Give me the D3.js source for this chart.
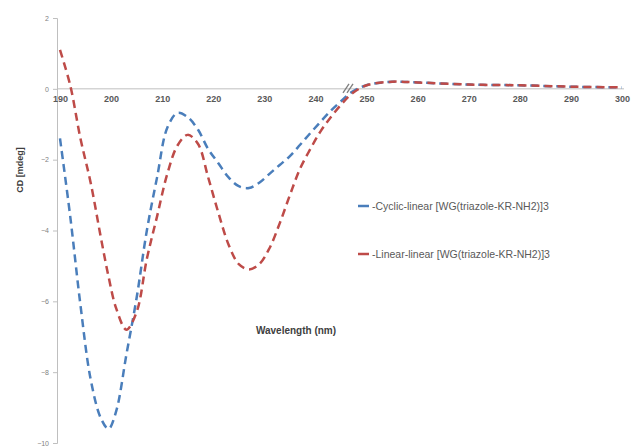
<!DOCTYPE html>
<html>
<head>
  <meta charset="utf-8" />
  <title>CD spectra</title>
  <script src="https://d3js.org/d3.v7.min.js"></script>
  <style>
    body { margin: 0; background: #fff; }
    text { font-family: "Liberation Sans", Arial, sans-serif; }
  </style>
</head>
<body>
<script>
  // data
  const wavelength = [190, 192, 194, 196, 198, 199.5, 201, 203, 205, 207, 209, 211, 213, 215, 217, 219,
    221, 223, 225, 227, 229, 231, 233, 235, 237, 239, 241, 243, 245, 247, 250, 255, 260, 270, 280, 290, 300];
  const cyclicCD = [-1.4, -3.6, -6.1, -8.2, -9.3, -9.6, -9.1, -7.5, -5.9, -4.0, -2.5, -1.1, -0.68, -0.8, -1.15, -1.7,
    -2.1, -2.5, -2.75, -2.8, -2.65, -2.4, -2.15, -1.9, -1.58, -1.25, -0.93, -0.62, -0.35, -0.1, 0.1, 0.2, 0.18, 0.12, 0.1, 0.06, 0.04];
  const linearCD = [1.1, 0.1, -1.4, -2.65, -4.2, -5.3, -6.2, -6.8, -6.3, -4.8, -3.6, -2.4, -1.6, -1.3, -1.55, -2.5,
    -3.5, -4.4, -4.95, -5.1, -4.95, -4.5, -3.8, -3.0, -2.25, -1.7, -1.2, -0.8, -0.45, -0.15, 0.1, 0.2, 0.18, 0.12, 0.1, 0.06, 0.04];
  const seriesNames = ["-Cyclic-linear [WG(triazole-KR-NH2)]3", "-Linear-linear [WG(triazole-KR-NH2)]3"];
  const seriesColors = ["#4a7ebb", "#be4b48"];
  const xTicks = [190, 200, 210, 220, 230, 240, 250, 260, 270, 280, 290, 300];
  const yTicks = [-10, -8, -6, -4, -2, 0, 2];

  const width = 639, height = 448;
  const svg = d3.select("body").append("svg")
    .attr("width", width)
    .attr("height", height);

  const x = d3.scaleLinear().domain([190, 300]).range([60, 622]);
  const y = d3.scaleLinear().domain([-10, 2]).range([443, 18]);

  // y axis
  const yAxis = svg.append("g")
    .attr("transform", "translate(57,0)")
    .call(d3.axisLeft(y).tickValues(yTicks).tickSize(4).tickPadding(4));
  yAxis.select(".domain").attr("stroke", "#bfbfbf");
  yAxis.selectAll(".tick line").attr("stroke", "#bfbfbf");
  yAxis.selectAll("text").attr("fill", "#7f7f7f").style("font-size", "7px");

  // x axis along zero
  const xAxis = svg.append("g")
    .attr("transform", `translate(0,${y(0)})`)
    .call(d3.axisBottom(x).tickValues(xTicks).tickSize(0).tickPadding(7));
  xAxis.select(".domain").attr("stroke", "#bfbfbf").attr("d", `M57,0H${x(300) + 2}`);
  xAxis.selectAll("text").attr("fill", "#595959").style("font-size", "9px").style("font-weight", "bold");

  // axis break mark
  const bx = 346;
  [0, 4].forEach(o => {
    svg.append("line")
      .attr("x1", bx + o - 3).attr("y1", y(0) + 4)
      .attr("x2", bx + o + 3).attr("y2", y(0) - 5)
      .attr("stroke", "#7f7f7f").attr("stroke-width", 1.3);
  });

  const line = d3.line()
    .x(d => x(d[0]))
    .y(d => y(d[1]))
    .curve(d3.curveCatmullRom.alpha(0.5));

  [cyclicCD, linearCD].forEach((vals, i) => {
    svg.append("path")
      .datum(wavelength.map((w, j) => [w, vals[j]]))
      .attr("d", line)
      .attr("fill", "none")
      .attr("stroke", seriesColors[i])
      .attr("stroke-width", 2.5)
      .attr("stroke-dasharray", "8,5");
  });

  // legend
  const legend = svg.append("g");
  [206, 254].forEach((ly, i) => {
    legend.append("line")
      .attr("x1", 358).attr("x2", 369)
      .attr("y1", ly).attr("y2", ly)
      .attr("stroke", seriesColors[i]).attr("stroke-width", 2.5);
    legend.append("text")
      .attr("x", 372).attr("y", ly + 3.5)
      .attr("fill", "#595959")
      .style("font-size", "10.5px")
      .text(seriesNames[i]);
  });

  // titles
  svg.append("text")
    .attr("x", 296).attr("y", 334)
    .attr("text-anchor", "middle")
    .attr("fill", "#404040")
    .style("font-size", "10px").style("font-weight", "bold")
    .text("Wavelength (nm)");

  svg.append("text")
    .attr("transform", "translate(23,170) rotate(-90)")
    .attr("text-anchor", "middle")
    .attr("fill", "#404040")
    .style("font-size", "9px").style("font-weight", "bold")
    .text("CD [mdeg]");
</script>
</body>
</html>
